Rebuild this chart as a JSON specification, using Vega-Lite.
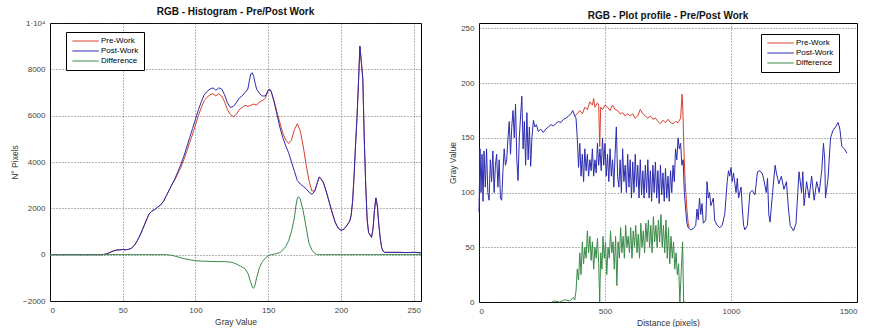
{
 "$schema": "https://vega.github.io/schema/vega-lite/v6.json",
 "padding": {"left": 10, "top": 6, "right": 5, "bottom": 0},
 "background": "white",
 "spacing": 24,
 "config": {
  "font": "Liberation Sans",
  "view": {"stroke": "black", "strokeWidth": 1},
  "axis": {"domain": false, "ticks": false, "labelFontSize": 8, "labelColor": "#444", "titleFontSize": 8.5, "titleFontWeight": "normal", "titleColor": "#333", "gridColor": "#333", "gridDash": [1, 2], "gridOpacity": 0.9, "gridWidth": 0.8, "labelPadding": 5, "titlePadding": 3},
  "title": {"fontSize": 10, "fontWeight": "bold", "offset": 2, "color": "#111"},
  "legend": {"title": null, "strokeColor": "black", "fillColor": "white", "padding": 5, "symbolType": "M-1,0H9", "symbolSize": 28, "symbolStrokeWidth": 1, "labelFontSize": 8, "rowPadding": 2, "labelOffset": 22, "labelLimit": 60},
  "line": {"strokeWidth": 1}
 },
 "resolve": {"scale": {"color": "independent"}, "legend": {"color": "independent"}},
 "datasets": {
  "hist": [
   {"g":0,"v":0,"s":"Pre-Work"},{"g":10,"v":0,"s":"Pre-Work"},{"g":20,"v":0,"s":"Pre-Work"},{"g":30,"v":0,"s":"Pre-Work"},{"g":36,"v":0,"s":"Pre-Work"},{"g":38,"v":20,"s":"Pre-Work"},{"g":40,"v":60,"s":"Pre-Work"},{"g":42,"v":120,"s":"Pre-Work"},{"g":44,"v":170,"s":"Pre-Work"},{"g":46,"v":200,"s":"Pre-Work"},{"g":48,"v":210,"s":"Pre-Work"},{"g":50,"v":220,"s":"Pre-Work"},{"g":52,"v":210,"s":"Pre-Work"},{"g":54,"v":230,"s":"Pre-Work"},{"g":56,"v":280,"s":"Pre-Work"},{"g":58,"v":400,"s":"Pre-Work"},{"g":60,"v":600,"s":"Pre-Work"},{"g":62,"v":850,"s":"Pre-Work"},{"g":64,"v":1150,"s":"Pre-Work"},{"g":66,"v":1450,"s":"Pre-Work"},{"g":68,"v":1750,"s":"Pre-Work"},{"g":70,"v":1880,"s":"Pre-Work"},{"g":72,"v":1950,"s":"Pre-Work"},{"g":74,"v":2050,"s":"Pre-Work"},{"g":76,"v":2150,"s":"Pre-Work"},{"g":78,"v":2300,"s":"Pre-Work"},{"g":80,"v":2550,"s":"Pre-Work"},{"g":82,"v":2800,"s":"Pre-Work"},{"g":84,"v":3050,"s":"Pre-Work"},{"g":86,"v":3250,"s":"Pre-Work"},{"g":88,"v":3520,"s":"Pre-Work"},{"g":90,"v":3780,"s":"Pre-Work"},{"g":92,"v":4100,"s":"Pre-Work"},{"g":94,"v":4450,"s":"Pre-Work"},{"g":96,"v":4850,"s":"Pre-Work"},{"g":98,"v":5200,"s":"Pre-Work"},{"g":100,"v":5600,"s":"Pre-Work"},{"g":102,"v":6000,"s":"Pre-Work"},{"g":104,"v":6350,"s":"Pre-Work"},{"g":106,"v":6650,"s":"Pre-Work"},{"g":108,"v":6800,"s":"Pre-Work"},{"g":110,"v":6900,"s":"Pre-Work"},{"g":112,"v":6950,"s":"Pre-Work"},{"g":114,"v":6850,"s":"Pre-Work"},{"g":116,"v":6950,"s":"Pre-Work"},{"g":118,"v":6850,"s":"Pre-Work"},{"g":120,"v":6600,"s":"Pre-Work"},{"g":122,"v":6250,"s":"Pre-Work"},{"g":124,"v":6050,"s":"Pre-Work"},{"g":126,"v":5950,"s":"Pre-Work"},{"g":128,"v":6050,"s":"Pre-Work"},{"g":130,"v":6250,"s":"Pre-Work"},{"g":132,"v":6350,"s":"Pre-Work"},{"g":134,"v":6450,"s":"Pre-Work"},{"g":136,"v":6400,"s":"Pre-Work"},{"g":138,"v":6450,"s":"Pre-Work"},{"g":140,"v":6500,"s":"Pre-Work"},{"g":142,"v":6450,"s":"Pre-Work"},{"g":144,"v":6600,"s":"Pre-Work"},{"g":146,"v":6650,"s":"Pre-Work"},{"g":148,"v":6750,"s":"Pre-Work"},{"g":150,"v":7100,"s":"Pre-Work"},{"g":152,"v":7050,"s":"Pre-Work"},{"g":154,"v":6650,"s":"Pre-Work"},{"g":156,"v":6150,"s":"Pre-Work"},{"g":158,"v":5700,"s":"Pre-Work"},{"g":160,"v":5250,"s":"Pre-Work"},{"g":162,"v":4950,"s":"Pre-Work"},{"g":164,"v":4800,"s":"Pre-Work"},{"g":166,"v":4950,"s":"Pre-Work"},{"g":168,"v":5400,"s":"Pre-Work"},{"g":170,"v":5650,"s":"Pre-Work"},{"g":172,"v":5350,"s":"Pre-Work"},{"g":174,"v":4700,"s":"Pre-Work"},{"g":176,"v":3900,"s":"Pre-Work"},{"g":178,"v":3200,"s":"Pre-Work"},{"g":180,"v":2750,"s":"Pre-Work"},{"g":182,"v":2750,"s":"Pre-Work"},{"g":184,"v":3150,"s":"Pre-Work"},{"g":185,"v":3350,"s":"Pre-Work"},{"g":186,"v":3300,"s":"Pre-Work"},{"g":188,"v":3100,"s":"Pre-Work"},{"g":190,"v":2700,"s":"Pre-Work"},{"g":192,"v":2250,"s":"Pre-Work"},{"g":194,"v":1800,"s":"Pre-Work"},{"g":196,"v":1400,"s":"Pre-Work"},{"g":198,"v":1150,"s":"Pre-Work"},{"g":200,"v":1050,"s":"Pre-Work"},{"g":202,"v":1100,"s":"Pre-Work"},{"g":204,"v":1250,"s":"Pre-Work"},{"g":206,"v":1450,"s":"Pre-Work"},{"g":207,"v":1700,"s":"Pre-Work"},{"g":208,"v":2300,"s":"Pre-Work"},{"g":209,"v":3400,"s":"Pre-Work"},{"g":210,"v":4700,"s":"Pre-Work"},{"g":211,"v":5900,"s":"Pre-Work"},{"g":212,"v":7400,"s":"Pre-Work"},{"g":213,"v":9000,"s":"Pre-Work"},{"g":214,"v":8300,"s":"Pre-Work"},{"g":215,"v":7600,"s":"Pre-Work"},{"g":216,"v":5000,"s":"Pre-Work"},{"g":217,"v":3000,"s":"Pre-Work"},{"g":218,"v":1500,"s":"Pre-Work"},{"g":219,"v":950,"s":"Pre-Work"},{"g":220,"v":850,"s":"Pre-Work"},{"g":221,"v":750,"s":"Pre-Work"},{"g":222,"v":1100,"s":"Pre-Work"},{"g":223,"v":1900,"s":"Pre-Work"},{"g":224,"v":2450,"s":"Pre-Work"},{"g":225,"v":2100,"s":"Pre-Work"},{"g":226,"v":1300,"s":"Pre-Work"},{"g":227,"v":700,"s":"Pre-Work"},{"g":228,"v":300,"s":"Pre-Work"},{"g":229,"v":150,"s":"Pre-Work"},{"g":230,"v":100,"s":"Pre-Work"},{"g":235,"v":100,"s":"Pre-Work"},{"g":240,"v":100,"s":"Pre-Work"},{"g":245,"v":90,"s":"Pre-Work"},{"g":250,"v":100,"s":"Pre-Work"},{"g":255,"v":80,"s":"Pre-Work"},
   {"g":0,"v":0,"s":"Post-Work"},{"g":10,"v":0,"s":"Post-Work"},{"g":20,"v":0,"s":"Post-Work"},{"g":30,"v":0,"s":"Post-Work"},{"g":36,"v":0,"s":"Post-Work"},{"g":38,"v":20,"s":"Post-Work"},{"g":40,"v":60,"s":"Post-Work"},{"g":42,"v":120,"s":"Post-Work"},{"g":44,"v":170,"s":"Post-Work"},{"g":46,"v":200,"s":"Post-Work"},{"g":48,"v":210,"s":"Post-Work"},{"g":50,"v":220,"s":"Post-Work"},{"g":52,"v":210,"s":"Post-Work"},{"g":54,"v":230,"s":"Post-Work"},{"g":56,"v":280,"s":"Post-Work"},{"g":58,"v":400,"s":"Post-Work"},{"g":60,"v":600,"s":"Post-Work"},{"g":62,"v":850,"s":"Post-Work"},{"g":64,"v":1150,"s":"Post-Work"},{"g":66,"v":1450,"s":"Post-Work"},{"g":68,"v":1750,"s":"Post-Work"},{"g":70,"v":1880,"s":"Post-Work"},{"g":72,"v":1950,"s":"Post-Work"},{"g":74,"v":2050,"s":"Post-Work"},{"g":76,"v":2150,"s":"Post-Work"},{"g":78,"v":2300,"s":"Post-Work"},{"g":80,"v":2550,"s":"Post-Work"},{"g":82,"v":2800,"s":"Post-Work"},{"g":84,"v":3050,"s":"Post-Work"},{"g":86,"v":3300,"s":"Post-Work"},{"g":88,"v":3600,"s":"Post-Work"},{"g":90,"v":3900,"s":"Post-Work"},{"g":92,"v":4250,"s":"Post-Work"},{"g":94,"v":4650,"s":"Post-Work"},{"g":96,"v":5050,"s":"Post-Work"},{"g":98,"v":5450,"s":"Post-Work"},{"g":100,"v":5850,"s":"Post-Work"},{"g":102,"v":6250,"s":"Post-Work"},{"g":104,"v":6600,"s":"Post-Work"},{"g":106,"v":6900,"s":"Post-Work"},{"g":108,"v":7050,"s":"Post-Work"},{"g":110,"v":7150,"s":"Post-Work"},{"g":112,"v":7200,"s":"Post-Work"},{"g":114,"v":7100,"s":"Post-Work"},{"g":116,"v":7200,"s":"Post-Work"},{"g":118,"v":7150,"s":"Post-Work"},{"g":120,"v":6900,"s":"Post-Work"},{"g":122,"v":6550,"s":"Post-Work"},{"g":124,"v":6350,"s":"Post-Work"},{"g":126,"v":6400,"s":"Post-Work"},{"g":128,"v":6550,"s":"Post-Work"},{"g":130,"v":6750,"s":"Post-Work"},{"g":132,"v":6850,"s":"Post-Work"},{"g":134,"v":7000,"s":"Post-Work"},{"g":136,"v":7150,"s":"Post-Work"},{"g":137,"v":7500,"s":"Post-Work"},{"g":138,"v":7800,"s":"Post-Work"},{"g":139,"v":7850,"s":"Post-Work"},{"g":140,"v":7700,"s":"Post-Work"},{"g":141,"v":7400,"s":"Post-Work"},{"g":142,"v":7150,"s":"Post-Work"},{"g":144,"v":6950,"s":"Post-Work"},{"g":146,"v":6850,"s":"Post-Work"},{"g":148,"v":6850,"s":"Post-Work"},{"g":150,"v":7100,"s":"Post-Work"},{"g":151,"v":7150,"s":"Post-Work"},{"g":152,"v":7050,"s":"Post-Work"},{"g":154,"v":6600,"s":"Post-Work"},{"g":156,"v":6050,"s":"Post-Work"},{"g":158,"v":5500,"s":"Post-Work"},{"g":160,"v":5050,"s":"Post-Work"},{"g":162,"v":4700,"s":"Post-Work"},{"g":164,"v":4400,"s":"Post-Work"},{"g":166,"v":4000,"s":"Post-Work"},{"g":168,"v":3600,"s":"Post-Work"},{"g":170,"v":3200,"s":"Post-Work"},{"g":172,"v":3050,"s":"Post-Work"},{"g":174,"v":2950,"s":"Post-Work"},{"g":176,"v":2850,"s":"Post-Work"},{"g":178,"v":2700,"s":"Post-Work"},{"g":180,"v":2600,"s":"Post-Work"},{"g":182,"v":2750,"s":"Post-Work"},{"g":184,"v":3150,"s":"Post-Work"},{"g":185,"v":3350,"s":"Post-Work"},{"g":186,"v":3300,"s":"Post-Work"},{"g":188,"v":3100,"s":"Post-Work"},{"g":190,"v":2700,"s":"Post-Work"},{"g":192,"v":2250,"s":"Post-Work"},{"g":194,"v":1800,"s":"Post-Work"},{"g":196,"v":1400,"s":"Post-Work"},{"g":198,"v":1150,"s":"Post-Work"},{"g":200,"v":1050,"s":"Post-Work"},{"g":202,"v":1100,"s":"Post-Work"},{"g":204,"v":1250,"s":"Post-Work"},{"g":206,"v":1450,"s":"Post-Work"},{"g":207,"v":1700,"s":"Post-Work"},{"g":208,"v":2300,"s":"Post-Work"},{"g":209,"v":3400,"s":"Post-Work"},{"g":210,"v":4700,"s":"Post-Work"},{"g":211,"v":5900,"s":"Post-Work"},{"g":212,"v":7400,"s":"Post-Work"},{"g":213,"v":9000,"s":"Post-Work"},{"g":214,"v":8300,"s":"Post-Work"},{"g":215,"v":7600,"s":"Post-Work"},{"g":216,"v":5000,"s":"Post-Work"},{"g":217,"v":3000,"s":"Post-Work"},{"g":218,"v":1500,"s":"Post-Work"},{"g":219,"v":950,"s":"Post-Work"},{"g":220,"v":850,"s":"Post-Work"},{"g":221,"v":750,"s":"Post-Work"},{"g":222,"v":1100,"s":"Post-Work"},{"g":223,"v":1900,"s":"Post-Work"},{"g":224,"v":2450,"s":"Post-Work"},{"g":225,"v":2100,"s":"Post-Work"},{"g":226,"v":1300,"s":"Post-Work"},{"g":227,"v":700,"s":"Post-Work"},{"g":228,"v":300,"s":"Post-Work"},{"g":229,"v":150,"s":"Post-Work"},{"g":230,"v":100,"s":"Post-Work"},{"g":235,"v":100,"s":"Post-Work"},{"g":240,"v":100,"s":"Post-Work"},{"g":245,"v":90,"s":"Post-Work"},{"g":250,"v":100,"s":"Post-Work"},{"g":255,"v":80,"s":"Post-Work"},
   {"g":0,"v":0,"s":"Difference"},{"g":80,"v":0,"s":"Difference"},{"g":84,"v":-30,"s":"Difference"},{"g":88,"v":-100,"s":"Difference"},{"g":92,"v":-170,"s":"Difference"},{"g":96,"v":-220,"s":"Difference"},{"g":100,"v":-260,"s":"Difference"},{"g":105,"v":-280,"s":"Difference"},{"g":110,"v":-290,"s":"Difference"},{"g":115,"v":-300,"s":"Difference"},{"g":120,"v":-300,"s":"Difference"},{"g":125,"v":-330,"s":"Difference"},{"g":128,"v":-400,"s":"Difference"},{"g":131,"v":-500,"s":"Difference"},{"g":134,"v":-600,"s":"Difference"},{"g":136,"v":-800,"s":"Difference"},{"g":138,"v":-1200,"s":"Difference"},{"g":139,"v":-1400,"s":"Difference"},{"g":140,"v":-1450,"s":"Difference"},{"g":141,"v":-1300,"s":"Difference"},{"g":142,"v":-1000,"s":"Difference"},{"g":144,"v":-550,"s":"Difference"},{"g":146,"v":-300,"s":"Difference"},{"g":148,"v":-150,"s":"Difference"},{"g":150,"v":-50,"s":"Difference"},{"g":152,"v":0,"s":"Difference"},{"g":155,"v":30,"s":"Difference"},{"g":158,"v":90,"s":"Difference"},{"g":160,"v":200,"s":"Difference"},{"g":162,"v":350,"s":"Difference"},{"g":164,"v":600,"s":"Difference"},{"g":166,"v":1000,"s":"Difference"},{"g":168,"v":1600,"s":"Difference"},{"g":169,"v":2100,"s":"Difference"},{"g":170,"v":2450,"s":"Difference"},{"g":171,"v":2500,"s":"Difference"},{"g":172,"v":2400,"s":"Difference"},{"g":174,"v":1900,"s":"Difference"},{"g":176,"v":1200,"s":"Difference"},{"g":178,"v":500,"s":"Difference"},{"g":180,"v":200,"s":"Difference"},{"g":182,"v":50,"s":"Difference"},{"g":184,"v":0,"s":"Difference"},{"g":255,"v":0,"s":"Difference"}
  ],
  "prof": [
   {"d":380,"v":170,"s":"Pre-Work"},{"d":390,"v":172,"s":"Pre-Work"},{"d":400,"v":175,"s":"Pre-Work"},{"d":410,"v":172,"s":"Pre-Work"},{"d":420,"v":178,"s":"Pre-Work"},{"d":430,"v":176,"s":"Pre-Work"},{"d":440,"v":183,"s":"Pre-Work"},{"d":450,"v":180,"s":"Pre-Work"},{"d":455,"v":186,"s":"Pre-Work"},{"d":460,"v":178,"s":"Pre-Work"},{"d":470,"v":182,"s":"Pre-Work"},{"d":475,"v":180,"s":"Pre-Work"},{"d":479,"v":142,"s":"Pre-Work"},{"d":483,"v":178,"s":"Pre-Work"},{"d":490,"v":176,"s":"Pre-Work"},{"d":500,"v":180,"s":"Pre-Work"},{"d":510,"v":178,"s":"Pre-Work"},{"d":520,"v":175,"s":"Pre-Work"},{"d":530,"v":180,"s":"Pre-Work"},{"d":540,"v":176,"s":"Pre-Work"},{"d":550,"v":175,"s":"Pre-Work"},{"d":560,"v":172,"s":"Pre-Work"},{"d":570,"v":173,"s":"Pre-Work"},{"d":580,"v":170,"s":"Pre-Work"},{"d":590,"v":172,"s":"Pre-Work"},{"d":600,"v":170,"s":"Pre-Work"},{"d":610,"v":172,"s":"Pre-Work"},{"d":620,"v":168,"s":"Pre-Work"},{"d":630,"v":170,"s":"Pre-Work"},{"d":640,"v":176,"s":"Pre-Work"},{"d":650,"v":172,"s":"Pre-Work"},{"d":660,"v":170,"s":"Pre-Work"},{"d":670,"v":168,"s":"Pre-Work"},{"d":680,"v":170,"s":"Pre-Work"},{"d":690,"v":167,"s":"Pre-Work"},{"d":700,"v":168,"s":"Pre-Work"},{"d":710,"v":165,"s":"Pre-Work"},{"d":720,"v":163,"s":"Pre-Work"},{"d":730,"v":166,"s":"Pre-Work"},{"d":740,"v":164,"s":"Pre-Work"},{"d":750,"v":167,"s":"Pre-Work"},{"d":760,"v":164,"s":"Pre-Work"},{"d":770,"v":163,"s":"Pre-Work"},{"d":780,"v":165,"s":"Pre-Work"},{"d":790,"v":164,"s":"Pre-Work"},{"d":800,"v":168,"s":"Pre-Work"},{"d":806,"v":190,"s":"Pre-Work"},{"d":809,"v":175,"s":"Pre-Work"},{"d":813,"v":140,"s":"Pre-Work"},{"d":818,"v":110,"s":"Pre-Work"},{"d":825,"v":85,"s":"Pre-Work"},{"d":830,"v":72,"s":"Pre-Work"},{"d":835,"v":68,"s":"Pre-Work"},
   {"d":0,"v":82,"s":"Post-Work"},{"d":4,"v":140,"s":"Post-Work"},{"d":8,"v":100,"s":"Post-Work"},{"d":12,"v":135,"s":"Post-Work"},{"d":16,"v":92,"s":"Post-Work"},{"d":20,"v":138,"s":"Post-Work"},{"d":25,"v":105,"s":"Post-Work"},{"d":30,"v":140,"s":"Post-Work"},{"d":35,"v":100,"s":"Post-Work"},{"d":40,"v":93,"s":"Post-Work"},{"d":45,"v":130,"s":"Post-Work"},{"d":50,"v":110,"s":"Post-Work"},{"d":55,"v":138,"s":"Post-Work"},{"d":60,"v":100,"s":"Post-Work"},{"d":65,"v":125,"s":"Post-Work"},{"d":70,"v":135,"s":"Post-Work"},{"d":75,"v":105,"s":"Post-Work"},{"d":80,"v":130,"s":"Post-Work"},{"d":85,"v":95,"s":"Post-Work"},{"d":90,"v":93,"s":"Post-Work"},{"d":95,"v":120,"s":"Post-Work"},{"d":100,"v":140,"s":"Post-Work"},{"d":105,"v":125,"s":"Post-Work"},{"d":110,"v":130,"s":"Post-Work"},{"d":115,"v":150,"s":"Post-Work"},{"d":120,"v":165,"s":"Post-Work"},{"d":125,"v":135,"s":"Post-Work"},{"d":130,"v":160,"s":"Post-Work"},{"d":135,"v":175,"s":"Post-Work"},{"d":140,"v":150,"s":"Post-Work"},{"d":145,"v":181,"s":"Post-Work"},{"d":150,"v":130,"s":"Post-Work"},{"d":155,"v":111,"s":"Post-Work"},{"d":160,"v":150,"s":"Post-Work"},{"d":165,"v":170,"s":"Post-Work"},{"d":170,"v":188,"s":"Post-Work"},{"d":175,"v":140,"s":"Post-Work"},{"d":180,"v":165,"s":"Post-Work"},{"d":185,"v":125,"s":"Post-Work"},{"d":190,"v":173,"s":"Post-Work"},{"d":195,"v":130,"s":"Post-Work"},{"d":200,"v":160,"s":"Post-Work"},{"d":205,"v":124,"s":"Post-Work"},{"d":210,"v":150,"s":"Post-Work"},{"d":216,"v":166,"s":"Post-Work"},{"d":222,"v":160,"s":"Post-Work"},{"d":228,"v":162,"s":"Post-Work"},{"d":235,"v":156,"s":"Post-Work"},{"d":245,"v":158,"s":"Post-Work"},{"d":255,"v":155,"s":"Post-Work"},{"d":265,"v":158,"s":"Post-Work"},{"d":275,"v":160,"s":"Post-Work"},{"d":285,"v":162,"s":"Post-Work"},{"d":295,"v":161,"s":"Post-Work"},{"d":305,"v":163,"s":"Post-Work"},{"d":315,"v":165,"s":"Post-Work"},{"d":325,"v":164,"s":"Post-Work"},{"d":335,"v":167,"s":"Post-Work"},{"d":345,"v":168,"s":"Post-Work"},{"d":355,"v":170,"s":"Post-Work"},{"d":365,"v":172,"s":"Post-Work"},{"d":372,"v":175,"s":"Post-Work"},{"d":380,"v":170,"s":"Post-Work"},{"d":385,"v":168,"s":"Post-Work"},{"d":390,"v":150,"s":"Post-Work"},{"d":395,"v":123,"s":"Post-Work"},{"d":400,"v":145,"s":"Post-Work"},{"d":405,"v":115,"s":"Post-Work"},{"d":410,"v":135,"s":"Post-Work"},{"d":415,"v":110,"s":"Post-Work"},{"d":420,"v":140,"s":"Post-Work"},{"d":425,"v":120,"s":"Post-Work"},{"d":430,"v":135,"s":"Post-Work"},{"d":435,"v":115,"s":"Post-Work"},{"d":440,"v":130,"s":"Post-Work"},{"d":445,"v":120,"s":"Post-Work"},{"d":450,"v":140,"s":"Post-Work"},{"d":455,"v":115,"s":"Post-Work"},{"d":460,"v":130,"s":"Post-Work"},{"d":465,"v":118,"s":"Post-Work"},{"d":470,"v":145,"s":"Post-Work"},{"d":475,"v":125,"s":"Post-Work"},{"d":480,"v":140,"s":"Post-Work"},{"d":485,"v":120,"s":"Post-Work"},{"d":490,"v":150,"s":"Post-Work"},{"d":495,"v":125,"s":"Post-Work"},{"d":500,"v":145,"s":"Post-Work"},{"d":505,"v":115,"s":"Post-Work"},{"d":510,"v":135,"s":"Post-Work"},{"d":515,"v":110,"s":"Post-Work"},{"d":520,"v":140,"s":"Post-Work"},{"d":525,"v":115,"s":"Post-Work"},{"d":530,"v":130,"s":"Post-Work"},{"d":535,"v":105,"s":"Post-Work"},{"d":540,"v":135,"s":"Post-Work"},{"d":545,"v":160,"s":"Post-Work"},{"d":550,"v":115,"s":"Post-Work"},{"d":555,"v":105,"s":"Post-Work"},{"d":560,"v":130,"s":"Post-Work"},{"d":565,"v":100,"s":"Post-Work"},{"d":570,"v":140,"s":"Post-Work"},{"d":575,"v":110,"s":"Post-Work"},{"d":580,"v":125,"s":"Post-Work"},{"d":585,"v":100,"s":"Post-Work"},{"d":590,"v":135,"s":"Post-Work"},{"d":595,"v":105,"s":"Post-Work"},{"d":600,"v":130,"s":"Post-Work"},{"d":605,"v":95,"s":"Post-Work"},{"d":610,"v":128,"s":"Post-Work"},{"d":615,"v":100,"s":"Post-Work"},{"d":620,"v":135,"s":"Post-Work"},{"d":625,"v":105,"s":"Post-Work"},{"d":630,"v":125,"s":"Post-Work"},{"d":635,"v":95,"s":"Post-Work"},{"d":640,"v":130,"s":"Post-Work"},{"d":645,"v":98,"s":"Post-Work"},{"d":650,"v":120,"s":"Post-Work"},{"d":655,"v":95,"s":"Post-Work"},{"d":660,"v":125,"s":"Post-Work"},{"d":665,"v":100,"s":"Post-Work"},{"d":670,"v":130,"s":"Post-Work"},{"d":675,"v":95,"s":"Post-Work"},{"d":680,"v":120,"s":"Post-Work"},{"d":685,"v":92,"s":"Post-Work"},{"d":690,"v":125,"s":"Post-Work"},{"d":695,"v":100,"s":"Post-Work"},{"d":700,"v":128,"s":"Post-Work"},{"d":705,"v":95,"s":"Post-Work"},{"d":710,"v":120,"s":"Post-Work"},{"d":715,"v":90,"s":"Post-Work"},{"d":720,"v":125,"s":"Post-Work"},{"d":725,"v":98,"s":"Post-Work"},{"d":730,"v":118,"s":"Post-Work"},{"d":735,"v":92,"s":"Post-Work"},{"d":740,"v":122,"s":"Post-Work"},{"d":745,"v":95,"s":"Post-Work"},{"d":750,"v":115,"s":"Post-Work"},{"d":755,"v":92,"s":"Post-Work"},{"d":760,"v":120,"s":"Post-Work"},{"d":765,"v":100,"s":"Post-Work"},{"d":770,"v":125,"s":"Post-Work"},{"d":775,"v":110,"s":"Post-Work"},{"d":780,"v":140,"s":"Post-Work"},{"d":785,"v":130,"s":"Post-Work"},{"d":790,"v":150,"s":"Post-Work"},{"d":795,"v":140,"s":"Post-Work"},{"d":800,"v":145,"s":"Post-Work"},{"d":805,"v":125,"s":"Post-Work"},{"d":810,"v":130,"s":"Post-Work"},{"d":815,"v":100,"s":"Post-Work"},{"d":820,"v":85,"s":"Post-Work"},{"d":825,"v":72,"s":"Post-Work"},{"d":830,"v":68,"s":"Post-Work"},{"d":840,"v":66,"s":"Post-Work"},{"d":850,"v":67,"s":"Post-Work"},{"d":860,"v":70,"s":"Post-Work"},{"d":865,"v":85,"s":"Post-Work"},{"d":870,"v":75,"s":"Post-Work"},{"d":875,"v":95,"s":"Post-Work"},{"d":880,"v":80,"s":"Post-Work"},{"d":885,"v":90,"s":"Post-Work"},{"d":890,"v":72,"s":"Post-Work"},{"d":900,"v":75,"s":"Post-Work"},{"d":905,"v":110,"s":"Post-Work"},{"d":910,"v":95,"s":"Post-Work"},{"d":915,"v":100,"s":"Post-Work"},{"d":920,"v":88,"s":"Post-Work"},{"d":930,"v":95,"s":"Post-Work"},{"d":935,"v":75,"s":"Post-Work"},{"d":945,"v":70,"s":"Post-Work"},{"d":955,"v":68,"s":"Post-Work"},{"d":965,"v":70,"s":"Post-Work"},{"d":975,"v":80,"s":"Post-Work"},{"d":985,"v":110,"s":"Post-Work"},{"d":990,"v":120,"s":"Post-Work"},{"d":995,"v":115,"s":"Post-Work"},{"d":1000,"v":123,"s":"Post-Work"},{"d":1005,"v":110,"s":"Post-Work"},{"d":1010,"v":118,"s":"Post-Work"},{"d":1020,"v":100,"s":"Post-Work"},{"d":1025,"v":113,"s":"Post-Work"},{"d":1030,"v":95,"s":"Post-Work"},{"d":1040,"v":105,"s":"Post-Work"},{"d":1045,"v":85,"s":"Post-Work"},{"d":1050,"v":70,"s":"Post-Work"},{"d":1055,"v":66,"s":"Post-Work"},{"d":1065,"v":70,"s":"Post-Work"},{"d":1075,"v":100,"s":"Post-Work"},{"d":1085,"v":102,"s":"Post-Work"},{"d":1095,"v":98,"s":"Post-Work"},{"d":1105,"v":119,"s":"Post-Work"},{"d":1115,"v":120,"s":"Post-Work"},{"d":1125,"v":117,"s":"Post-Work"},{"d":1130,"v":112,"s":"Post-Work"},{"d":1140,"v":100,"s":"Post-Work"},{"d":1145,"v":113,"s":"Post-Work"},{"d":1150,"v":80,"s":"Post-Work"},{"d":1155,"v":73,"s":"Post-Work"},{"d":1165,"v":100,"s":"Post-Work"},{"d":1175,"v":125,"s":"Post-Work"},{"d":1180,"v":118,"s":"Post-Work"},{"d":1190,"v":108,"s":"Post-Work"},{"d":1200,"v":115,"s":"Post-Work"},{"d":1210,"v":103,"s":"Post-Work"},{"d":1220,"v":110,"s":"Post-Work"},{"d":1228,"v":85,"s":"Post-Work"},{"d":1235,"v":70,"s":"Post-Work"},{"d":1248,"v":65,"s":"Post-Work"},{"d":1258,"v":72,"s":"Post-Work"},{"d":1265,"v":100,"s":"Post-Work"},{"d":1270,"v":119,"s":"Post-Work"},{"d":1280,"v":100,"s":"Post-Work"},{"d":1285,"v":119,"s":"Post-Work"},{"d":1290,"v":88,"s":"Post-Work"},{"d":1300,"v":110,"s":"Post-Work"},{"d":1310,"v":95,"s":"Post-Work"},{"d":1320,"v":115,"s":"Post-Work"},{"d":1330,"v":93,"s":"Post-Work"},{"d":1340,"v":110,"s":"Post-Work"},{"d":1350,"v":100,"s":"Post-Work"},{"d":1360,"v":120,"s":"Post-Work"},{"d":1367,"v":145,"s":"Post-Work"},{"d":1372,"v":130,"s":"Post-Work"},{"d":1375,"v":95,"s":"Post-Work"},{"d":1385,"v":113,"s":"Post-Work"},{"d":1395,"v":150,"s":"Post-Work"},{"d":1405,"v":157,"s":"Post-Work"},{"d":1415,"v":160,"s":"Post-Work"},{"d":1425,"v":164,"s":"Post-Work"},{"d":1432,"v":158,"s":"Post-Work"},{"d":1440,"v":142,"s":"Post-Work"},{"d":1450,"v":140,"s":"Post-Work"},{"d":1460,"v":136,"s":"Post-Work"},
   {"d":290,"v":0,"s":"Difference"},{"d":300,"v":1,"s":"Difference"},{"d":320,"v":0,"s":"Difference"},{"d":340,"v":2,"s":"Difference"},{"d":360,"v":1,"s":"Difference"},{"d":375,"v":4,"s":"Difference"},{"d":380,"v":2,"s":"Difference"},{"d":385,"v":10,"s":"Difference"},{"d":390,"v":30,"s":"Difference"},{"d":395,"v":20,"s":"Difference"},{"d":400,"v":45,"s":"Difference"},{"d":405,"v":25,"s":"Difference"},{"d":410,"v":55,"s":"Difference"},{"d":415,"v":35,"s":"Difference"},{"d":420,"v":50,"s":"Difference"},{"d":425,"v":40,"s":"Difference"},{"d":430,"v":65,"s":"Difference"},{"d":435,"v":45,"s":"Difference"},{"d":440,"v":60,"s":"Difference"},{"d":445,"v":38,"s":"Difference"},{"d":450,"v":55,"s":"Difference"},{"d":455,"v":30,"s":"Difference"},{"d":460,"v":50,"s":"Difference"},{"d":465,"v":40,"s":"Difference"},{"d":470,"v":58,"s":"Difference"},{"d":475,"v":35,"s":"Difference"},{"d":479,"v":0,"s":"Difference"},{"d":483,"v":45,"s":"Difference"},{"d":488,"v":30,"s":"Difference"},{"d":492,"v":60,"s":"Difference"},{"d":497,"v":40,"s":"Difference"},{"d":502,"v":55,"s":"Difference"},{"d":507,"v":25,"s":"Difference"},{"d":512,"v":50,"s":"Difference"},{"d":517,"v":40,"s":"Difference"},{"d":522,"v":65,"s":"Difference"},{"d":527,"v":45,"s":"Difference"},{"d":532,"v":55,"s":"Difference"},{"d":537,"v":30,"s":"Difference"},{"d":542,"v":60,"s":"Difference"},{"d":547,"v":15,"s":"Difference"},{"d":552,"v":55,"s":"Difference"},{"d":557,"v":40,"s":"Difference"},{"d":562,"v":68,"s":"Difference"},{"d":567,"v":45,"s":"Difference"},{"d":572,"v":60,"s":"Difference"},{"d":577,"v":40,"s":"Difference"},{"d":582,"v":70,"s":"Difference"},{"d":587,"v":50,"s":"Difference"},{"d":592,"v":60,"s":"Difference"},{"d":597,"v":45,"s":"Difference"},{"d":602,"v":68,"s":"Difference"},{"d":607,"v":40,"s":"Difference"},{"d":612,"v":65,"s":"Difference"},{"d":617,"v":50,"s":"Difference"},{"d":622,"v":70,"s":"Difference"},{"d":627,"v":45,"s":"Difference"},{"d":632,"v":62,"s":"Difference"},{"d":637,"v":40,"s":"Difference"},{"d":642,"v":72,"s":"Difference"},{"d":647,"v":50,"s":"Difference"},{"d":652,"v":65,"s":"Difference"},{"d":657,"v":45,"s":"Difference"},{"d":662,"v":72,"s":"Difference"},{"d":667,"v":55,"s":"Difference"},{"d":672,"v":75,"s":"Difference"},{"d":677,"v":50,"s":"Difference"},{"d":682,"v":70,"s":"Difference"},{"d":687,"v":45,"s":"Difference"},{"d":692,"v":78,"s":"Difference"},{"d":697,"v":55,"s":"Difference"},{"d":702,"v":70,"s":"Difference"},{"d":707,"v":50,"s":"Difference"},{"d":712,"v":75,"s":"Difference"},{"d":717,"v":55,"s":"Difference"},{"d":722,"v":80,"s":"Difference"},{"d":727,"v":50,"s":"Difference"},{"d":732,"v":70,"s":"Difference"},{"d":737,"v":45,"s":"Difference"},{"d":742,"v":75,"s":"Difference"},{"d":747,"v":40,"s":"Difference"},{"d":752,"v":68,"s":"Difference"},{"d":757,"v":35,"s":"Difference"},{"d":762,"v":60,"s":"Difference"},{"d":767,"v":40,"s":"Difference"},{"d":772,"v":55,"s":"Difference"},{"d":777,"v":30,"s":"Difference"},{"d":782,"v":45,"s":"Difference"},{"d":787,"v":25,"s":"Difference"},{"d":792,"v":35,"s":"Difference"},{"d":797,"v":0,"s":"Difference"},{"d":803,"v":30,"s":"Difference"},{"d":808,"v":55,"s":"Difference"},{"d":812,"v":0,"s":"Difference"},{"d":820,"v":0,"s":"Difference"}
  ]
 },
 "hconcat": [
  {
   "width": 371, "height": 278,
   "title": "RGB - Histogram - Pre/Post Work",
   "data": {"name": "hist"},
   "mark": {"type": "line", "strokeWidth": 1},
   "encoding": {
    "x": {"field": "g", "type": "quantitative", "scale": {"domain": [0, 255], "nice": false}, "axis": {"values": [0, 50, 100, 150, 200, 250], "title": "Gray Value"}},
    "y": {"field": "v", "type": "quantitative", "scale": {"domain": [-2000, 10000], "nice": false}, "axis": {"values": [-2000, 0, 2000, 4000, 6000, 8000, 10000], "format": "d", "labelExpr": "datum.value == 10000 ? '1·10⁴' : datum.label", "title": "N° Pixels"}},
    "color": {"field": "s", "type": "nominal", "scale": {"domain": ["Pre-Work", "Post-Work", "Difference"], "range": ["#d8402e", "#2b2bb0", "#3a8a48"]},
     "legend": {"orient": "none", "legendX": 16, "legendY": 9, "encode": {"labels": {"update": {"fill": {"signal": "datum.label == 'Pre-Work' ? '#d8402e' : datum.label == 'Post-Work' ? '#2b2bb0' : '#3a8a48'"}}}}}}
   }
  },
  {
   "width": 378, "height": 279,
   "title": "RGB - Plot profile - Pre/Post Work",
   "data": {"name": "prof"},
   "mark": {"type": "line", "strokeWidth": 1},
   "encoding": {
    "x": {"field": "d", "type": "quantitative", "scale": {"domain": [0, 1500], "nice": false}, "axis": {"values": [0, 500, 1000, 1500], "format": "d", "title": "Distance (pixels)"}},
    "y": {"field": "v", "type": "quantitative", "scale": {"domain": [0, 255], "nice": false}, "axis": {"values": [0, 50, 100, 150, 200, 250], "title": "Gray Value"}},
    "color": {"field": "s", "type": "nominal", "scale": {"domain": ["Pre-Work", "Post-Work", "Difference"], "range": ["#d8402e", "#2b2bb0", "#3a8a48"]},
     "legend": {"orient": "none", "legendX": 282, "legendY": 11, "encode": {"labels": {"update": {"fill": {"signal": "datum.label == 'Pre-Work' ? '#d8402e' : datum.label == 'Post-Work' ? '#2b2bb0' : '#3a8a48'"}}}}}}
   }
  }
 ]
}
